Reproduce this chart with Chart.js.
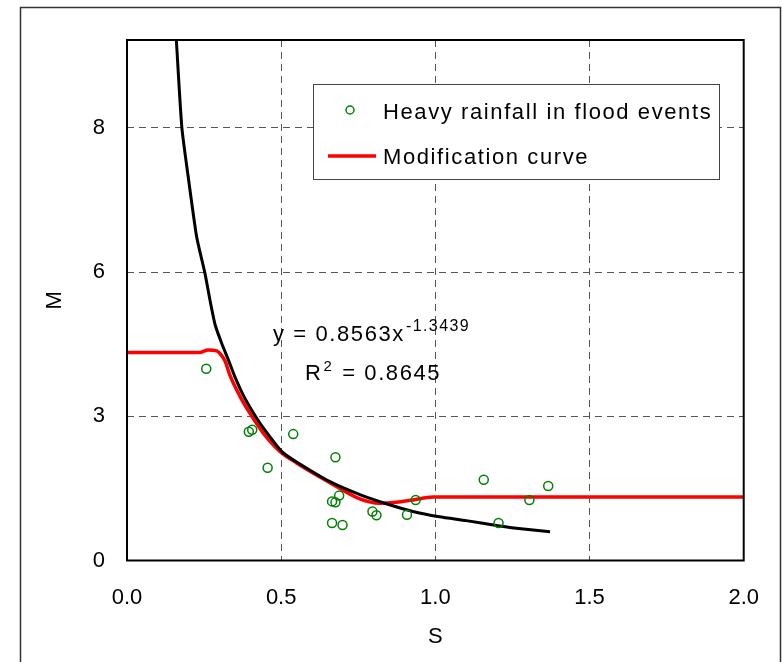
<!DOCTYPE html>
<html>
<head>
<meta charset="utf-8">
<title>M vs S</title>
<script src="https://cdn.jsdelivr.net/npm/chart.js@4.4.1/dist/chart.umd.min.js"></script>
<style>
  html, body { margin: 0; padding: 0; background: #fff; }
  #wrap { width: 783px; height: 662px; }
</style>
</head>
<body>
<div id="wrap"><canvas id="chart" width="783" height="662"></canvas></div>
<script>
// observed events (green circles)
const eventS = [0.257, 0.395, 0.406, 0.456, 0.539, 0.676, 0.665, 0.676, 0.688, 0.665, 0.699, 0.796, 0.809, 0.908, 0.936, 1.157, 1.205, 1.305, 1.366];
const eventM = [3.99, 2.68, 2.72, 1.93, 2.63, 2.15, 1.23, 1.21, 1.35, 0.78, 0.74, 1.02, 0.94, 0.95, 1.26, 1.68, 0.78, 1.26, 1.55];

// power fit (black curve)
const fitS = [0.160, 0.178, 0.199, 0.226, 0.253, 0.269, 0.286, 0.307, 0.329, 0.350, 0.377, 0.409, 0.442, 0.503, 0.550, 0.658, 0.755, 0.841, 0.927, 1.013, 1.100, 1.208, 1.294, 1.372];
const fitM = [10.83, 9.00, 7.96, 6.73, 5.97, 5.42, 4.90, 4.52, 4.17, 3.82, 3.44, 3.08, 2.76, 2.26, 2.05, 1.64, 1.37, 1.18, 1.02, 0.91, 0.83, 0.72, 0.65, 0.60];

// modification curve (red)
const modS = [0, 0.237, 0.263, 0.291, 0.305, 0.318, 0.334, 0.366, 0.399, 0.442, 0.496, 0.550, 0.658, 0.755, 0.819, 0.873, 0.927, 0.992, 2.0];
const modM = [4.33, 4.33, 4.38, 4.36, 4.28, 4.15, 3.85, 3.42, 3.06, 2.65, 2.27, 2.03, 1.62, 1.28, 1.19, 1.21, 1.26, 1.32, 1.32];

const xTicks = [0, 0.5, 1.0, 1.5, 2.0];
const yTicks = [0, 3, 6, 9];
const yTickLabels = ['0', '3', '6', '8'];

const FONT = "'Liberation Sans', Arial, sans-serif";
const canvas = document.getElementById('chart');

const toPoints = (xs, ys) => xs.map((x, i) => ({ x: x, y: ys[i] }));

// frame, legend box and fit equation
const extras = {
    id: 'extras',
    afterDraw(chart) {
        const ctx = chart.ctx;
        const a = chart.chartArea;
        ctx.save();

        ctx.strokeStyle = '#333';
        ctx.lineWidth = 1.5;
        ctx.strokeRect(20.5, 7.5, 760, 700);

        ctx.strokeStyle = '#000';
        ctx.lineWidth = 2;
        ctx.strokeRect(a.left, a.top, a.right - a.left, a.bottom - a.top);

        // legend
        const lx = a.left + 186, ly = a.top + 44;
        ctx.fillStyle = '#fff';
        ctx.fillRect(lx, ly, 406, 95);
        ctx.strokeStyle = '#444';
        ctx.lineWidth = 1;
        ctx.strokeRect(lx + 0.5, ly + 0.5, 406, 95);

        ctx.strokeStyle = '#008000';
        ctx.lineWidth = 1.5;
        ctx.beginPath();
        ctx.arc(lx + 37, ly + 26, 4, 0, Math.PI * 2);
        ctx.stroke();

        ctx.strokeStyle = '#ff0000';
        ctx.lineWidth = 3.5;
        ctx.beginPath();
        ctx.moveTo(lx + 15, ly + 72);
        ctx.lineTo(lx + 63, ly + 72);
        ctx.stroke();

        ctx.fillStyle = '#000';
        ctx.textBaseline = 'alphabetic';
        ctx.textAlign = 'left';
        ctx.letterSpacing = '1.6px';
        ctx.font = '22px ' + FONT;
        ctx.fillText('Heavy rainfall in flood events', lx + 70, ly + 35);
        ctx.fillText('Modification curve', lx + 70, ly + 80);

        // fit equation
        let tx = 273, ty = 341;
        ctx.font = '22px ' + FONT;
        ctx.fillText('y = 0.8563x', tx, ty);
        tx += ctx.measureText('y = 0.8563x').width;
        ctx.font = '16px ' + FONT;
        ctx.letterSpacing = '1.4px';
        ctx.fillText('-1.3439', tx + 1, ty - 10);

        tx = 305; ty = 380;
        ctx.letterSpacing = '1.6px';
        ctx.font = '22px ' + FONT;
        ctx.fillText('R', tx, ty);
        tx += ctx.measureText('R').width;
        ctx.font = '15px ' + FONT;
        ctx.fillText('2', tx + 1, ty - 9);
        tx += ctx.measureText('2').width;
        ctx.font = '22px ' + FONT;
        ctx.fillText(' = 0.8645', tx + 2, ty);

        ctx.restore();
    }
};

const chartData = {
    datasets: [{
        label: 'Heavy rainfall in flood events',
        type: 'scatter',
        data: toPoints(eventS, eventM),
        pointStyle: 'circle',
        pointRadius: 4.5,
        pointBorderWidth: 1.5,
        borderColor: '#008000',
        backgroundColor: 'rgba(0,0,0,0)',
        order: 0
    }, {
        label: 'y = 0.8563x^-1.3439',
        type: 'line',
        data: toPoints(fitS, fitM),
        borderColor: '#000',
        borderWidth: 3,
        pointRadius: 0,
        tension: 0.2,
        fill: false,
        order: 1
    }, {
        label: 'Modification curve',
        type: 'line',
        data: toPoints(modS, modM),
        borderColor: '#ff0000',
        borderWidth: 3.5,
        pointRadius: 0,
        cubicInterpolationMode: 'monotone',
        fill: false,
        order: 2
    }]
};

const chartOptions = {
    responsive: false,
    devicePixelRatio: 1,
    animation: false,
    layout: {
        padding: { left: 0, right: 38, top: 40, bottom: 0 }
    },
    plugins: {
        legend: { display: false },
        tooltip: { enabled: false }
    },
    scales: {
        x: {
            type: 'linear',
            min: 0,
            max: 2,
            afterBuildTicks: scale => { scale.ticks = xTicks.map(v => ({ value: v })); },
            afterFit: scale => { scale.height = 101.5; },
            ticks: {
                callback: v => v.toFixed(1),
                font: { family: FONT, size: 22 },
                color: '#000',
                padding: 24,
                maxRotation: 0,
                autoSkip: false
            },
            grid: { color: '#555', lineWidth: 1, drawTicks: false },
            border: { display: false, dash: [7, 5] },
            title: {
                display: true,
                text: 'S',
                font: { family: FONT, size: 22 },
                color: '#000',
                padding: { top: 0, bottom: 12 }
            }
        },
        y: {
            type: 'linear',
            min: 0,
            max: 10.83,
            afterBuildTicks: scale => { scale.ticks = yTicks.map(v => ({ value: v })); },
            afterFit: scale => { scale.width = 127; },
            ticks: {
                callback: (v, i) => yTickLabels[i],
                font: { family: FONT, size: 22 },
                color: '#000',
                padding: 22,
                autoSkip: false
            },
            grid: { color: '#555', lineWidth: 1, drawTicks: false },
            border: { display: false, dash: [7, 5] },
            title: {
                display: true,
                text: 'M',
                font: { family: FONT, size: 22 },
                color: '#000',
                padding: { top: 42, bottom: 0 }
            }
        }
    }
};

const mainChart = new Chart(canvas, {
    type: 'scatter',
    data: chartData,
    options: chartOptions,
    plugins: [extras]
});
</script>
</body>
</html>
